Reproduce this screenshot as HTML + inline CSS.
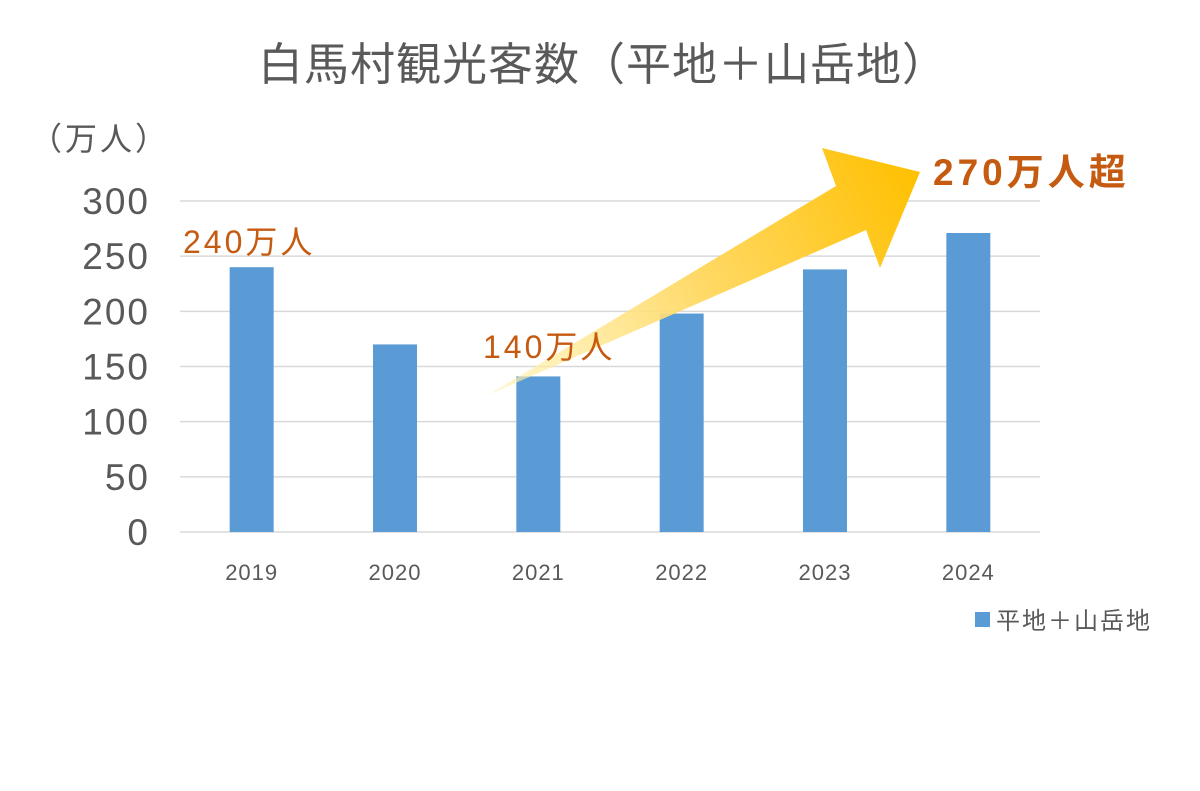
<!DOCTYPE html>
<html><head><meta charset="utf-8"><style>
html,body{margin:0;padding:0;background:#fff;}
svg{display:block;font-family:"Liberation Sans","Noto Sans CJK JP",sans-serif;}
</style></head><body>
<svg id="chart" width="1200" height="791" viewBox="0 0 1200 791">
<defs>
<linearGradient id="ag" x1="488" y1="395" x2="920" y2="172" gradientUnits="userSpaceOnUse">
<stop offset="0" stop-color="#fff2b0" stop-opacity="0.6"/>
<stop offset="0.5" stop-color="#ffd966"/>
<stop offset="1" stop-color="#ffc000"/>
</linearGradient>
</defs>
<text x="603" y="80" text-anchor="middle" font-size="45" letter-spacing="1" fill="#595959">白馬村観光客数（平地＋山岳地）</text>
<text x="30" y="150" font-size="32" letter-spacing="3" fill="#595959">（万人）</text>
<g id="grid"></g>
<g id="bars"></g>
<g id="labels"></g>
<polygon points="488,395 836,186 822,148 920,172 880,268 866,230" fill="url(#ag)"/>
<text x="183" y="253" font-size="32" letter-spacing="3" fill="#c55a11">240万人</text>
<text x="483" y="358" font-size="32" letter-spacing="3" fill="#c55a11">140万人</text>
<text x="933" y="185" font-size="37" letter-spacing="4" font-weight="bold" fill="#c55a11">270万人超</text>
<rect x="975" y="612" width="15" height="15" fill="#5b9bd5"/>
<text x="996" y="629" font-size="24" letter-spacing="2" fill="#595959">平地＋山岳地</text>
</svg>
<script>
const categories=["2019","2020","2021","2022","2023","2024"];
const values=[240,170,141,198,238,271];
const yTicks=[0,50,100,150,200,250,300];
const ns="http://www.w3.org/2000/svg";
const x0=180,x1=1040,yBase=532,yTop=201,yMax=300;
const y=v=>yBase-(v/yMax)*(yBase-yTop);
const band=(x1-x0)/categories.length;
const xc=i=>x0+band*(i+0.5);
const grid=document.getElementById('grid'),bars=document.getElementById('bars'),labels=document.getElementById('labels');
function mk(t,a){const e=document.createElementNS(ns,t);for(const k in a)e.setAttribute(k,a[k]);return e;}
yTicks.forEach(t=>{
  const l=mk('line',{x1:x0,x2:x1,y1:y(t),y2:y(t),stroke:'#d9d9d9','stroke-width':1.5});
  
  
  grid.appendChild(l);
  const tx=mk('text',{x:150,y:y(t)+13,'text-anchor':'end','font-size':37,'letter-spacing':2,fill:'#595959'});
  tx.textContent=t;
  
  
  labels.appendChild(tx);
});
categories.forEach((c,i)=>{
  const r=mk('rect',{x:xc(i)-22,y:y(values[i]),width:44,height:yBase-y(values[i]),fill:'#5b9bd5'});
  
  
  bars.appendChild(r);
  const tx=mk('text',{x:xc(i),y:580,'text-anchor':'middle','font-size':22,'letter-spacing':1,fill:'#595959'});
  tx.textContent=c;
  
  
  labels.appendChild(tx);
});
</script>
</body></html>
